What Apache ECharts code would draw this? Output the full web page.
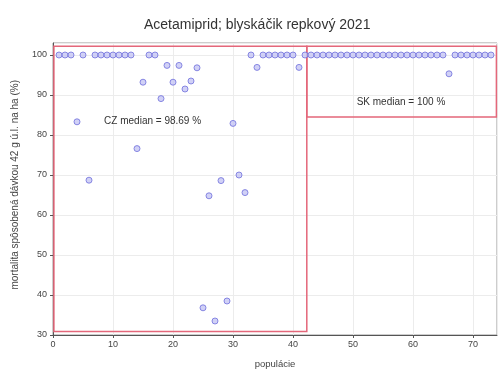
<!DOCTYPE html>
<html><head><meta charset="utf-8">
<script src="https://cdn.jsdelivr.net/npm/echarts@6/dist/echarts.min.js"></script>
<style>html,body{margin:0;padding:0;background:#fff}#c{width:500px;height:374px}</style>
</head><body><div id="c"></div>
<script>
const czPop = [1,2,3,4,5,6,7,8,9,10,11,12,13,14,15,16,17,18,19,20,21,22,23,24,25,26,27,28,29,30,31,32,33,34,35,36,37,38,39,40,41,42];
const czVal = [100,100,100,83.3,100,68.7,100,100,100,100,100,100,100,76.6,93.2,100,100,89.1,97.4,93.2,97.4,91.5,93.5,96.8,36.8,64.8,33.5,68.6,38.5,82.9,70.0,65.6,100,96.9,100,100,100,100,100,100,96.9,100];
const skPop = [43,44,45,46,47,48,49,50,51,52,53,54,55,56,57,58,59,60,61,62,63,64,65,66,67,68,69,70,71,72,73];
const skVal = [100,100,100,100,100,100,100,100,100,100,100,100,100,100,100,100,100,100,100,100,100,100,100,95.3,100,100,100,100,100,100,100];
const xTicks = [0,10,20,30,40,50,60,70];
const yTicks = [30,40,50,60,70,80,90,100];
const title = 'Acetamiprid; blyskáčik repkový 2021';
const yName = 'mortalita spôsobená dávkou 42 g ú.l. na ha (%)';
const xName = 'populácie';
const czNote = 'CZ median = 98.69 %';
const skNote = 'SK median = 100 %';

const font = 'Liberation Sans, Arial, sans-serif';
const chart = echarts.init(document.getElementById('c'), null, {renderer:'canvas'});
const mk = (p, v) => p.map((x, i) => [x, v[i]]);
const dotStyle = {color:'#c6c6f4', borderColor:'#6f6fdc', borderWidth:1};
const boxStyle = {color:'rgba(0,0,0,0)', borderColor:'#e4677a', borderWidth:1.5};
chart.setOption({
  animation:false,
  backgroundColor:'#fff',
  title:{text:title, left:139, top:13, textStyle:{fontFamily:font, fontSize:14, fontWeight:'normal', color:'#333'}},
  grid:{left:53, right:3, top:43, bottom:33, show:true, borderColor:'#9a9a9a', borderWidth:1},
  xAxis:{type:'value', min:0, max:74, interval:10,
    name:xName, nameLocation:'middle', nameGap:24,
    nameTextStyle:{fontFamily:font, fontSize:9.5, color:'#444'},
    axisLine:{show:true, lineStyle:{color:'#555'}},
    axisTick:{show:true, length:3, lineStyle:{color:'#555'}},
    axisLabel:{fontFamily:font, fontSize:9, color:'#444', showMaxLabel:false, margin:5,
      formatter:v => xTicks.includes(v) ? String(v) : ''},
    splitLine:{show:true, lineStyle:{color:'#ececec'}}},
  yAxis:{type:'value', min:30, max:103, interval:10,
    axisLine:{show:true, lineStyle:{color:'#555'}},
    axisTick:{show:true, length:3, lineStyle:{color:'#555'}},
    axisLabel:{fontFamily:font, fontSize:9, color:'#444', showMaxLabel:false, margin:6,
      formatter:v => yTicks.includes(v) ? String(v) : ''},
    splitLine:{show:true, lineStyle:{color:'#ececec'}}},
  graphic:[{type:'text', left:10, top:80, rotation:Math.PI/2,
    style:{text:yName, fontFamily:font, fontSize:10, fill:'#444'}}],
  series:[
    {name:'CZ', type:'scatter', data:mk(czPop, czVal), symbol:'circle', symbolSize:6, itemStyle:dotStyle, z:3,
      markArea:{silent:true, itemStyle:boxStyle, label:{show:false},
        data:[[{coord:[0.15,102.2]},{coord:[42.3,30.9]}],[{coord:[42.3,102.2]},{coord:[73.9,84.5]}]]},
      markPoint:{symbol:'circle', symbolSize:1, itemStyle:{color:'rgba(0,0,0,0)'},
        label:{show:true, position:'inside', fontFamily:font, fontSize:10, color:'#333', formatter:p=>p.name},
        data:[{name:czNote, coord:[16.6,83.4]},{name:skNote, coord:[58.0,88.2]}]}},
    {name:'SK', type:'scatter', data:mk(skPop, skVal), symbol:'circle', symbolSize:6, itemStyle:dotStyle, z:3}
  ]
});
</script></body></html>
